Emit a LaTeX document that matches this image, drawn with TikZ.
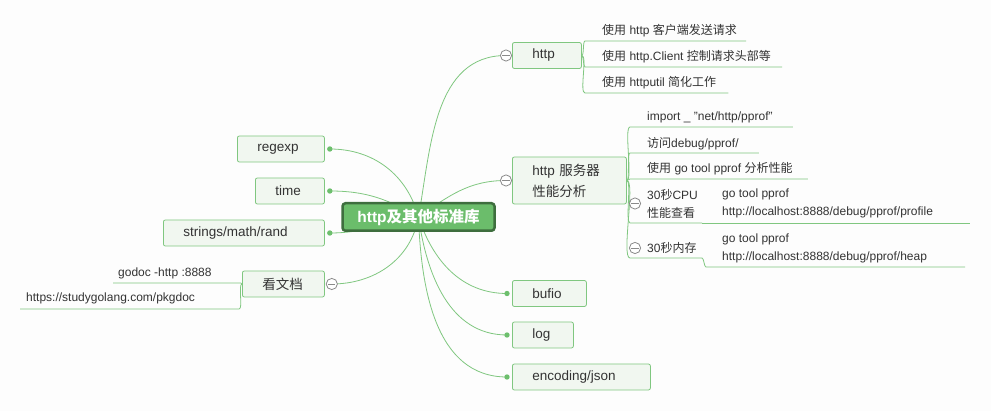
\documentclass[tikz,border=0pt]{standalone}
\usepackage{fontspec}
\setmainfont{Liberation Sans}
\newfontfamily\cjk{Noto Sans CJK SC}
\usetikzlibrary{calc}
\usepackage{xcolor}
\definecolor{bg0}{HTML}{FDFDFD}
\definecolor{leaf}{HTML}{F1F7F0}
\definecolor{green}{HTML}{80C780}
\definecolor{dotgreen}{HTML}{6DBF6D}
\definecolor{rootfill}{HTML}{6BBD6B}
\definecolor{rootline}{HTML}{3E6E3E}
\definecolor{fold}{HTML}{8A8A8A}
\definecolor{fg}{HTML}{333333}
\newcommand{\zh}[1]{{\cjk #1}}
\newcommand{\branchdot}[1]{
  \fill[dotgreen] #1 circle (2.7pt);
}
\newcommand{\foldmark}[1]{
  \draw[fold, fill=white, line width=0.8pt] #1 circle (5.6pt);
  \draw[fold, line width=0.8pt] #1 ++(-3.6,0) -- ++(7.2,0);
}

\begin{document}
\begin{tikzpicture}[x=1pt, y=1pt,
  rootnode/.style={
    rectangle,
    rounded corners=3pt,
    draw=rootline,
    line width=2.5pt,
    fill=rootfill,
    text=white,
    minimum width=152pt,
    minimum height=27.5pt,
    font=\fontsize{15.5}{18}\selectfont\bfseries
  },
  topic/.style={
    rectangle,
    rounded corners=2pt,
    draw=green,
    fill=leaf,
    line width=0.8pt,
    anchor=west,
    inner xsep=20pt,
    minimum height=26pt,
    align=left,
    text=fg,
    font=\fontsize{13.5}{21}\selectfont
  },
  subitem/.style={
    anchor=west,
    inner sep=0pt,
    align=left,
    text=fg,
    font=\fontsize{12}{18}\selectfont
  },
  branch/.style={draw=green, line width=0.8pt}
  ]
  \useasboundingbox (0,0) rectangle (991,-411);
  \fill[bg0] (0,0) rectangle (991,-411);

  % left topics
  \node[topic, text width=47pt] (regexp) at (237,-149) {regexp};
  \node[topic, text width=29pt] (time) at (255,-191) {time};
  \node[topic, text width=121pt] (strings) at (163,-233) {strings/math/rand};
  \node[topic, text width=42pt] (kandoc) at (242,-284) {\zh{看文档}};

  \node[subitem] (doc-godoc) at (118,-273) {godoc -http :8888};
  \node[subitem] (doc-site) at (26,-298) {https://studygolang.com/pkgdoc};

  % right topics
  \node[topic, text width=29pt] (http) at (512,-55.5) {http};
  \node[topic, text width=74pt, minimum height=47pt] (pprof) at (512,-180.5) {http \zh{服务器}\\\zh{性能分析}};
  \node[topic, text width=34pt] (bufio) at (512,-293.5) {bufio};
  \node[topic, text width=21pt] (log) at (512,-335) {log};
  \node[topic, text width=98pt] (json) at (512,-377) {encoding/json};

  % http
  \node[subitem] (http-client) at (602,-31) {\zh{使用} http \zh{客户端发送请求}};
  \node[subitem] (http-header) at (602,-57) {\zh{使用} http.Client \zh{控制请求头部等}};
  \node[subitem] (http-util) at (602,-82.5) {\zh{使用} httputil \zh{简化工作}};

  % pprof
  \node[subitem] (pprof-import) at (647,-117) {import \_ "net/http/pprof"};
  \node[subitem] (pprof-visit) at (647,-143.5) {\zh{访问}debug/pprof/};
  \node[subitem] (pprof-tool) at (647,-169) {\zh{使用} go tool pprof \zh{分析性能}};
  \node[subitem] (pprof-cpu) at (647,-203.5) {30\zh{秒}CPU\\\zh{性能查看}};
  \node[subitem] (cpu-cmd) at (722,-203.5) {go tool pprof\\http://localhost:8888/debug/pprof/profile};
  \node[subitem] (pprof-mem) at (647,-248) {30\zh{秒内存}};
  \node[subitem] (mem-cmd) at (722,-248) {go tool pprof\\http://localhost:8888/debug/pprof/heap};

  \draw[branch] (http.east) to[out=0, in=180, looseness=.4] ($(http-client.west)+(-17,-10)$) -- ($(http-client.east)+(9,-10)$);
  \draw[branch] (http.east) to[out=0, in=180, looseness=.4] ($(http-header.west)+(-17,-10)$) -- ($(http-header.east)+(11,-10)$);
  \draw[branch] (http.east) to[out=0, in=180, looseness=.4] ($(http-util.west)+(-17,-10.5)$) -- ($(http-util.east)+(12,-10.5)$);

  \draw[branch] (pprof.east) to[out=0, in=180, looseness=.3] ($(pprof-import.west)+(-17,-10)$) -- ($(pprof-import.east)+(20,-10)$);
  \draw[branch] (pprof.east) to[out=0, in=180, looseness=.3] ($(pprof-visit.west)+(-17,-9.5)$) -- ($(pprof-visit.east)+(20,-9.5)$);
  \draw[branch] (pprof.east) to[out=0, in=180, looseness=.3] ($(pprof-tool.west)+(-17,-10)$) -- ($(pprof-tool.east)+(15,-10)$);
  \draw[branch] (pprof.east) to[out=0, in=180, looseness=.3] ($(pprof-cpu.west)+(-17,-19.5)$) -- ($(cpu-cmd.west)+(-20,-19.5)$);
  \draw[branch] (pprof.east) to[out=0, in=180, looseness=.3] ($(pprof-mem.west)+(-17,-10)$) -- ($(mem-cmd.west)+(-20,-10)$);
  \draw[branch] ($(cpu-cmd.west)+(-20,-19.5)$) -- ($(cpu-cmd.east)+(37,-19.5)$);
  \draw[branch] ($(mem-cmd.west)+(-20,-10)$) to[out=0, in=180, looseness=.5] ($(mem-cmd.west)+(-16,-19)$) -- ($(mem-cmd.east)+(38,-19)$);

  \draw[branch] (kandoc.west) to[out=180, in=0, looseness=.4] ($(doc-godoc.east)+(29,-10)$) -- ($(doc-godoc.west)+(-5,-10)$);
  \draw[branch] (kandoc.west) to[out=180, in=0, looseness=.4] ($(doc-site.east)+(44,-11)$) -- ($(doc-site.west)+(-6,-11)$);

  % main branches
  \coordinate (hub) at (418.5,-217);
  \draw[branch] (hub) to[out=80, in=180] ([xshift=-6pt]http.west);
  \draw[branch] (hub) to[out=35, in=180] ([xshift=-6pt]pprof.west);
  \draw[branch] (hub) to[out=-72, in=180] ([xshift=-5pt]bufio.west);
  \draw[branch] (hub) to[out=-82, in=180] ([xshift=-5pt]log.west);
  \draw[branch] (hub) to[out=-88, in=180] ([xshift=-5pt]json.west);
  \draw[branch] (hub) to[out=105, in=0] ([xshift=5pt]regexp.east);
  \draw[branch] (hub) to[out=150, in=0] ([xshift=5pt]time.east);
  \draw[branch] (hub) to[out=190, in=0] ([xshift=5pt]strings.east);
  \draw[branch] (hub) to[out=-100, in=0] ([xshift=7pt]kandoc.east);

  \branchdot{([xshift=-5pt]bufio.west)}
  \branchdot{([xshift=-5pt]log.west)}
  \branchdot{([xshift=-5pt]json.west)}
  \branchdot{([xshift=5pt]regexp.east)}
  \branchdot{([xshift=5pt]time.east)}
  \branchdot{([xshift=5pt]strings.east)}

  \foldmark{([xshift=-6pt]http.west)}
  \foldmark{([xshift=-6pt]pprof.west)}
  \foldmark{([xshift=7pt]kandoc.east)}
  \foldmark{([xshift=-12pt]pprof-cpu.west)}
  \foldmark{([xshift=-12pt]pprof-mem.west)}

  \node[rootnode] (root) at (hub) {http\zh{及其他标准库}};
\end{tikzpicture}
\end{document}
